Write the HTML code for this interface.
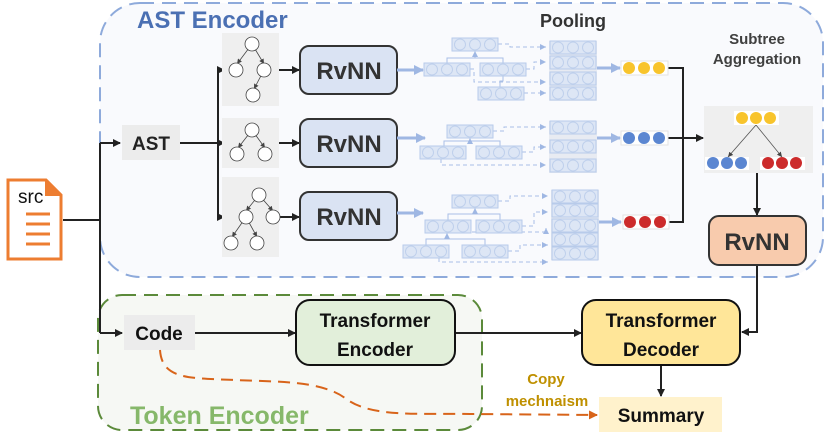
<!DOCTYPE html>
<html><head><meta charset="utf-8"><style>
html,body{margin:0;padding:0;background:#fff;}
svg{display:block;font-family:"Liberation Sans",sans-serif;}
</style></head><body>
<svg width="830" height="434" viewBox="0 0 830 434" xmlns="http://www.w3.org/2000/svg">
<defs>
<marker id="ak" markerWidth="8" markerHeight="8" refX="7" refY="4" orient="auto" markerUnits="userSpaceOnUse"><path d="M0,0 L8,4 L0,8 z" fill="#222"/></marker>
<marker id="ab" markerWidth="10" markerHeight="10" refX="9" refY="5" orient="auto" markerUnits="userSpaceOnUse"><path d="M0,0 L10,5 L0,10 z" fill="#9fb7e3"/></marker>
<marker id="abs" markerWidth="6" markerHeight="6" refX="6" refY="3" orient="auto" markerUnits="userSpaceOnUse"><path d="M0,0 L6,3 L0,6 z" fill="#9fb7e3"/></marker>
<marker id="ao" markerWidth="9" markerHeight="9" refX="8" refY="4.5" orient="auto" markerUnits="userSpaceOnUse"><path d="M0,0 L9,4.5 L0,9 z" fill="#d8641a"/></marker>
<marker id="at" markerWidth="5" markerHeight="5" refX="5" refY="2.5" orient="auto" markerUnits="userSpaceOnUse"><path d="M0,0 L5,2.5 L0,5 z" fill="#444"/></marker>
<g id="vec"><rect x="0" y="0" width="46" height="13" fill="#dde6f5" stroke="#b8cbea" stroke-width="1"/><circle cx="8" cy="6.5" r="5.5" fill="none" stroke="#bfd0ec"/><circle cx="23" cy="6.5" r="5.5" fill="none" stroke="#bfd0ec"/><circle cx="38" cy="6.5" r="5.5" fill="none" stroke="#bfd0ec"/></g>
</defs>

<rect x="100" y="3" width="723" height="274" rx="40" fill="#f9fafd" stroke="#8eaadb" stroke-width="2" stroke-dasharray="14,8"/>
<text x="137" y="28" font-size="24" font-weight="bold" fill="#4b70b3">AST Encoder</text>
<text x="573" y="27" font-size="18" font-weight="bold" fill="#333" text-anchor="middle">Pooling</text>
<text x="757" y="44" font-size="15" font-weight="bold" fill="#404040" text-anchor="middle">Subtree</text>
<text x="757" y="64" font-size="15" font-weight="bold" fill="#404040" text-anchor="middle">Aggregation</text>

<rect x="98" y="295" width="384" height="135" rx="24" fill="#f6f8f4" stroke="#5b8a3a" stroke-width="2" stroke-dasharray="14,8"/>
<text x="130" y="424" font-size="25" font-weight="bold" fill="#86b86a">Token Encoder</text>

<path d="M8,180 L46,180 L61,195 L61,259 L8,259 Z" fill="#fff" stroke="#ed7d31" stroke-width="3"/>
<path d="M45,180 L61,196 L45,196 Z" fill="#ed7d31"/>
<text x="18" y="203" font-size="19" fill="#111">src</text>
<g stroke="#ed7d31" stroke-width="3"><line x1="26" y1="214" x2="50" y2="214"/><line x1="26" y1="224" x2="50" y2="224"/><line x1="26" y1="234" x2="50" y2="234"/><line x1="26" y1="244" x2="50" y2="244"/></g>

<g stroke="#222" stroke-width="2" fill="none">
<line x1="63" y1="220" x2="100" y2="220"/>
<line x1="100" y1="143" x2="100" y2="333"/>
<line x1="100" y1="143" x2="120" y2="143" marker-end="url(#ak)"/>
<line x1="100" y1="333" x2="122" y2="333" marker-end="url(#ak)"/>
<line x1="180" y1="143" x2="218" y2="143"/>
<line x1="218" y1="70" x2="218" y2="217"/>
<line x1="218" y1="70" x2="224" y2="70" marker-end="url(#ak)"/>
<line x1="218" y1="143" x2="224" y2="143" marker-end="url(#ak)"/>
<line x1="218" y1="217" x2="224" y2="217" marker-end="url(#ak)"/>
<line x1="279" y1="70" x2="299" y2="70" marker-end="url(#ak)"/>
<line x1="279" y1="143" x2="299" y2="143" marker-end="url(#ak)"/>
<line x1="279" y1="217" x2="299" y2="217" marker-end="url(#ak)"/>
<polyline points="668,68 683,68 683,222 668,222"/>
<line x1="668" y1="138" x2="703" y2="138" marker-end="url(#ak)"/>
<line x1="757" y1="173" x2="757" y2="215" marker-end="url(#ak)"/>
<polyline points="757,265 757,332 742,332" marker-end="url(#ak)"/>
<line x1="195" y1="333" x2="295" y2="333" marker-end="url(#ak)"/>
<line x1="455" y1="333" x2="581" y2="333" marker-end="url(#ak)"/>
<line x1="661" y1="365" x2="661" y2="396" marker-end="url(#ak)"/>
</g>

<rect x="122" y="125" width="58" height="35" fill="#ececec"/>
<text x="151" y="150" font-size="19" font-weight="bold" fill="#222" text-anchor="middle">AST</text>
<rect x="124" y="315" width="71" height="35" fill="#ececec"/>
<text x="159" y="340" font-size="19" font-weight="bold" fill="#111" text-anchor="middle">Code</text>

<rect x="222" y="33" width="57" height="73" fill="#efefef"/>
<rect x="222" y="118" width="57" height="50" fill="#efefef"/>
<rect x="222" y="177" width="57" height="80" fill="#efefef"/>
<g stroke="#444" stroke-width="0.8" fill="none">
<line x1="252" y1="44" x2="237" y2="64" marker-end="url(#at)"/><line x1="252" y1="44" x2="264" y2="64" marker-end="url(#at)"/><line x1="264" y1="70" x2="254" y2="89" marker-end="url(#at)"/>
<line x1="252" y1="130" x2="238" y2="148" marker-end="url(#at)"/><line x1="252" y1="130" x2="265" y2="148" marker-end="url(#at)"/>
<line x1="259" y1="195" x2="246" y2="211" marker-end="url(#at)"/><line x1="259" y1="195" x2="273" y2="211" marker-end="url(#at)"/><line x1="246" y1="217" x2="232" y2="237" marker-end="url(#at)"/><line x1="246" y1="217" x2="257" y2="237" marker-end="url(#at)"/>
</g>
<g fill="#fff" stroke="#444" stroke-width="0.8">
<circle cx="252" cy="44" r="7"/><circle cx="236" cy="70" r="7"/><circle cx="264" cy="70" r="7"/><circle cx="253" cy="95" r="7"/>
<circle cx="252" cy="130" r="7"/><circle cx="237" cy="154" r="7"/><circle cx="265" cy="154" r="7"/>
<circle cx="259" cy="195" r="7"/><circle cx="246" cy="217" r="7"/><circle cx="273" cy="217" r="7"/><circle cx="231" cy="243" r="7"/><circle cx="257" cy="243" r="7"/>
</g>

<g stroke="#333" stroke-width="2" fill="#dae3f3">
<rect x="300" y="46" width="97" height="48" rx="9"/>
<rect x="300" y="119" width="97" height="48" rx="9"/>
<rect x="300" y="192" width="97" height="48" rx="9"/>
</g>
<g font-size="24" font-weight="bold" fill="#333" text-anchor="middle">
<text x="349" y="79">RvNN</text><text x="349" y="152">RvNN</text><text x="349" y="225">RvNN</text>
</g>

<g stroke="#9fb7e3" stroke-width="3" fill="none">
<line x1="397" y1="70" x2="423" y2="70" marker-end="url(#ab)"/>
<line x1="397" y1="138" x2="425" y2="138" marker-end="url(#ab)"/>
<line x1="397" y1="213" x2="423" y2="213" marker-end="url(#ab)"/>
<line x1="597" y1="68" x2="620" y2="68" marker-end="url(#ab)"/>
<line x1="597" y1="138" x2="620" y2="138" marker-end="url(#ab)"/>
<line x1="598" y1="222" x2="621" y2="222" marker-end="url(#ab)"/>
</g>

<g stroke="#a9bfe6" stroke-width="1" fill="none">
<polyline points="447,63 447,58 503,58 503,63"/><line x1="475" y1="58" x2="475" y2="51" marker-end="url(#abs)"/>
<polyline points="500,87 500,81 503,81 503,76"/>
<polyline points="444,146 444,141 500,141 500,146"/><line x1="470" y1="141" x2="470" y2="138" marker-end="url(#abs)"/>
<polyline points="448,220 448,214 500,214 500,220"/><line x1="475" y1="214" x2="475" y2="208" marker-end="url(#abs)"/>
<polyline points="426,245 426,239 485,239 485,245"/><line x1="447" y1="239" x2="447" y2="233" marker-end="url(#abs)"/>
</g>
<g stroke="#a9bfe6" stroke-width="1" fill="none" stroke-dasharray="4,3">
<polyline points="498,44 510,44 510,47 546,47" marker-end="url(#abs)"/>
<polyline points="526,69 534,69 534,62 546,62" marker-end="url(#abs)"/>
<polyline points="470,69 474,69 474,82 546,82" marker-end="url(#abs)"/>
<polyline points="524,93 546,93" marker-end="url(#abs)"/>
<polyline points="493,131 504,131 504,127 546,127" marker-end="url(#abs)"/>
<polyline points="522,152 534,152 534,147 546,147" marker-end="url(#abs)"/>
<polyline points="441,159 441,165 546,165" marker-end="url(#abs)"/>
<polyline points="498,201 510,201 510,196 548,196" marker-end="url(#abs)"/>
<polyline points="522,226 534,226 534,212 548,212" marker-end="url(#abs)"/>
<polyline points="471,226 471,232 546,232 546,228" marker-end="url(#abs)"/>
<polyline points="508,251 520,251 520,245 548,245" marker-end="url(#abs)"/>
<polyline points="439,258 439,262 548,262" marker-end="url(#abs)"/>
</g>
<use href="#vec" x="452" y="38"/><use href="#vec" x="424" y="63"/><use href="#vec" x="480" y="63"/><use href="#vec" x="478" y="87"/>
<use href="#vec" x="447" y="125"/><use href="#vec" x="420" y="146"/><use href="#vec" x="476" y="146"/>
<use href="#vec" x="452" y="195"/><use href="#vec" x="425" y="220"/><use href="#vec" x="476" y="220"/><use href="#vec" x="403" y="245"/><use href="#vec" x="462" y="245"/>
<rect x="549" y="41" width="48" height="60" fill="#e8ebf2"/>
<use href="#vec" x="550" y="41"/><use href="#vec" x="550" y="56"/><use href="#vec" x="550" y="72"/><use href="#vec" x="550" y="87"/>
<rect x="549" y="121" width="48" height="52" fill="#e8ebf2"/>
<use href="#vec" x="550" y="121"/><use href="#vec" x="550" y="140"/><use href="#vec" x="550" y="159"/>
<rect x="551" y="190" width="48" height="70" fill="#e8ebf2"/>
<use href="#vec" x="552" y="190"/><use href="#vec" x="552" y="204"/><use href="#vec" x="552" y="219"/><use href="#vec" x="552" y="233"/><use href="#vec" x="552" y="247"/>

<rect x="621" y="61" width="47" height="14" fill="#fff" stroke="#e3e3e3"/>
<g fill="#f8c42c"><circle cx="629" cy="68" r="6"/><circle cx="644" cy="68" r="6"/><circle cx="659" cy="68" r="6"/></g>
<rect x="621" y="131" width="47" height="14" fill="#fff" stroke="#e3e3e3"/>
<g fill="#5b86d1"><circle cx="629" cy="138" r="6"/><circle cx="644" cy="138" r="6"/><circle cx="659" cy="138" r="6"/></g>
<rect x="623" y="215" width="46" height="14" fill="#fff" stroke="#e3e3e3"/>
<g fill="#cc2b2b"><circle cx="630" cy="222" r="6"/><circle cx="645" cy="222" r="6"/><circle cx="660" cy="222" r="6"/></g>

<rect x="704" y="106" width="109" height="67" fill="#efefef"/>
<g stroke="#555" stroke-width="0.8"><line x1="756" y1="125" x2="728" y2="157" marker-end="url(#at)"/><line x1="756" y1="125" x2="782" y2="157" marker-end="url(#at)"/></g>
<rect x="734" y="111" width="45" height="14" fill="#fff"/>
<g fill="#f8c42c"><circle cx="742" cy="118" r="6"/><circle cx="756" cy="118" r="6"/><circle cx="770" cy="118" r="6"/></g>
<rect x="705" y="157" width="44" height="13" fill="#fff"/>
<g fill="#5b86d1"><circle cx="713" cy="163" r="6"/><circle cx="727" cy="163" r="6"/><circle cx="741" cy="163" r="6"/></g>
<rect x="760" y="157" width="45" height="13" fill="#fff"/>
<g fill="#cc2b2b"><circle cx="768" cy="163" r="6"/><circle cx="782" cy="163" r="6"/><circle cx="796" cy="163" r="6"/></g>

<rect x="709" y="216" width="97" height="49" rx="10" fill="#f8cbad" stroke="#333" stroke-width="2"/>
<text x="757" y="250" font-size="24" font-weight="bold" fill="#333" text-anchor="middle">RvNN</text>

<rect x="296" y="300" width="159" height="65" rx="14" fill="#e2efda" stroke="#111" stroke-width="2"/>
<text x="375" y="327" font-size="19" font-weight="bold" fill="#111" text-anchor="middle">Transformer</text>
<text x="375" y="356" font-size="19" font-weight="bold" fill="#111" text-anchor="middle">Encoder</text>
<rect x="582" y="300" width="158" height="65" rx="14" fill="#ffe699" stroke="#111" stroke-width="2"/>
<text x="661" y="327" font-size="19" font-weight="bold" fill="#111" text-anchor="middle">Transformer</text>
<text x="661" y="356" font-size="19" font-weight="bold" fill="#111" text-anchor="middle">Decoder</text>

<rect x="599" y="397" width="123" height="35" fill="#fff2cc"/>
<text x="661" y="422" font-size="19" font-weight="bold" fill="#111" text-anchor="middle">Summary</text>

<path d="M160,350 C162,380 190,378 235,380 C275,382 320,380 345,398 C370,418 420,413 470,414 L597,415" fill="none" stroke="#d8641a" stroke-width="2" stroke-dasharray="12,7" marker-end="url(#ao)"/>
<text x="546" y="384" font-size="15" font-weight="bold" fill="#bf9000" text-anchor="middle">Copy</text>
<text x="547" y="406" font-size="15" font-weight="bold" fill="#bf9000" text-anchor="middle">mechnaism</text>
</svg>
</body></html>
